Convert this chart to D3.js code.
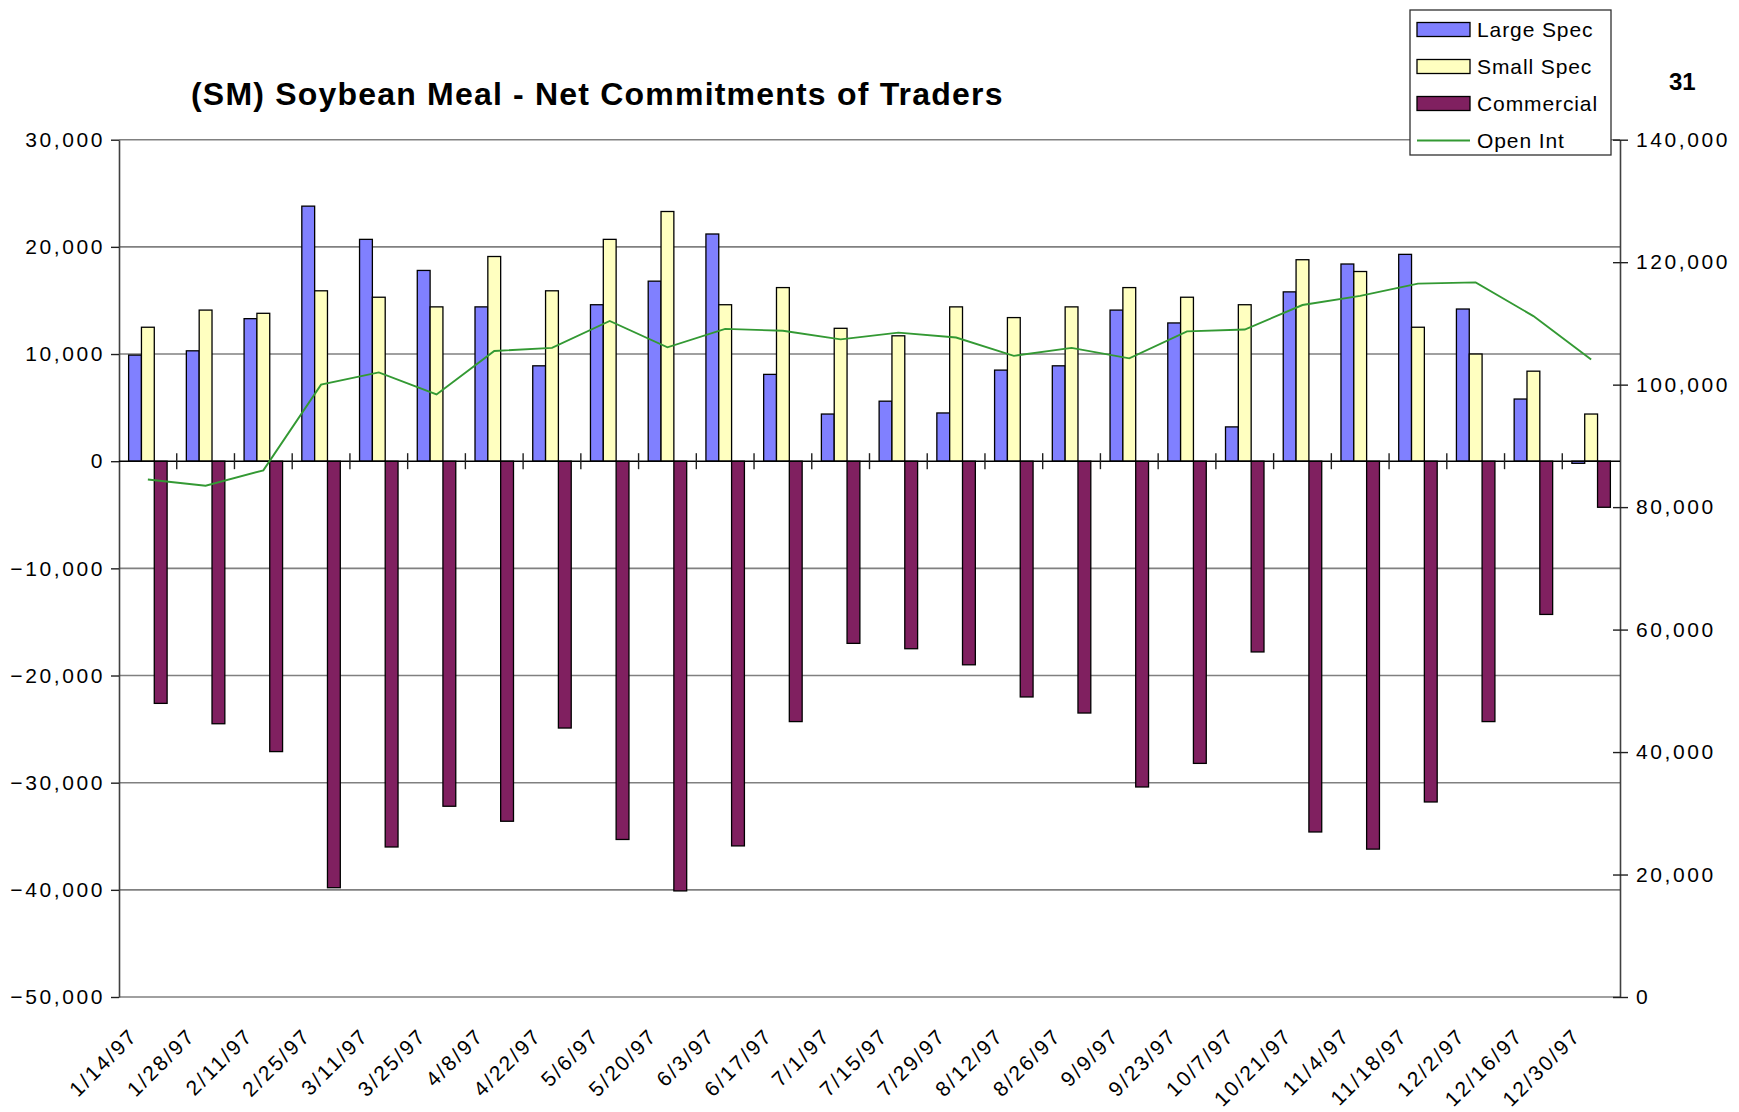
<!DOCTYPE html>
<html>
<head>
<meta charset="utf-8">
<script src="https://cdn.jsdelivr.net/npm/d3@7/dist/d3.min.js"></script>
<style>
  body { margin: 0; background: #fff; }
  svg text { font-family: Arial, "Liberation Sans", sans-serif; }
</style>
</head>
<body>
<div id="chart"></div>
<script>
// report dates (every two weeks)
const dates = ["1/14/97","1/28/97","2/11/97","2/25/97","3/11/97","3/25/97","4/8/97","4/22/97",
  "5/6/97","5/20/97","6/3/97","6/17/97","7/1/97","7/15/97","7/29/97","8/12/97","8/26/97",
  "9/9/97","9/23/97","10/7/97","10/21/97","11/4/97","11/18/97","12/2/97","12/16/97","12/30/97"];

// net positions (contracts)
const largeSpec = [9900,10300,13300,23800,20700,17800,14400,8900,14600,16800,21200,8100,4400,
  5600,4500,8500,8900,14100,12900,3200,15800,18400,19300,14200,5800,-200];
const smallSpec = [12500,14100,13800,15900,15300,14400,19100,15900,20700,23300,14600,16200,12400,
  11700,14400,13400,14400,16200,15300,14600,18800,17700,12500,10000,8400,4400];
const commercial = [-22600,-24500,-27100,-39800,-36000,-32200,-33600,-24900,-35300,-40100,-35900,
  -24300,-17000,-17500,-19000,-22000,-23500,-30400,-28200,-17800,-34600,-36200,-31800,-24300,-14300,-4300];
const openInt = [84500,83500,86000,100000,102000,98400,105500,106000,110400,106100,109100,108800,
  107400,108500,107700,104700,106000,104300,108700,109000,113000,114500,116500,116700,111200,104100];

const leftTicks = [30000,20000,10000,0,-10000,-20000,-30000,-40000,-50000];
const rightTicks = [0,20000,40000,60000,80000,100000,120000,140000];

const seriesNames = ["Large Spec","Small Spec","Commercial"];
const seriesColors = {"Large Spec":"#8080FF","Small Spec":"#FFFFC0","Commercial":"#802060"};
const lineColor = "#339933";

const W = 1739, H = 1112;
const plot = {left: 119, right: 1620, top: 139.7, bottom: 997};
const labelSize = 21, labelSpacing = "2.6px";

const svg = d3.select("#chart").append("svg")
  .attr("width", W).attr("height", H);

const x0 = d3.scaleBand()
  .domain(dates)
  .range([plot.left, plot.right])
  .paddingInner(1.5/4.5)
  .paddingOuter(0.75/4.5);
const x1 = d3.scaleBand()
  .domain(seriesNames)
  .range([0, x0.bandwidth()]);

const y = d3.scaleLinear().domain([-50000, 30000]).range([plot.bottom, plot.top]);
const y2 = d3.scaleLinear().domain([0, 140000]).range([plot.bottom, plot.top]);

const fmt = d3.format(",");

// gridlines
svg.append("g").selectAll("line")
  .data(leftTicks.filter(d => d !== 0))
  .enter().append("line")
    .attr("x1", plot.left).attr("x2", plot.right)
    .attr("y1", d => y(d)).attr("y2", d => y(d))
    .attr("stroke", "#808080").attr("stroke-width", 1.6);

// left axis
const leftAxis = svg.append("g")
  .attr("transform", `translate(${plot.left},0)`)
  .call(d3.axisLeft(y).tickValues(leftTicks).tickFormat(fmt).tickSizeInner(8).tickSizeOuter(0).tickPadding(6));
leftAxis.select(".domain").attr("stroke", "#404040").attr("stroke-width", 1.6);
leftAxis.selectAll(".tick line").attr("stroke", "#202020").attr("stroke-width", 1.4);
leftAxis.selectAll(".tick text")
  .attr("font-size", labelSize).attr("letter-spacing", labelSpacing).attr("fill", "#000")
  .attr("font-family", "Arial, 'Liberation Sans', sans-serif");

// right axis
const rightAxis = svg.append("g")
  .attr("transform", `translate(${plot.right},0)`)
  .call(d3.axisRight(y2).tickValues(rightTicks).tickFormat(fmt).tickSizeInner(8).tickSizeOuter(0).tickPadding(8));
rightAxis.select(".domain").attr("stroke", "#404040").attr("stroke-width", 1.6);
rightAxis.selectAll(".tick line").attr("x1", -7).attr("stroke", "#202020").attr("stroke-width", 1.4);
rightAxis.selectAll(".tick text")
  .attr("font-size", labelSize).attr("letter-spacing", labelSpacing).attr("fill", "#000")
  .attr("font-family", "Arial, 'Liberation Sans', sans-serif");

// bars
const rows = dates.map((d, i) => ({
  date: d,
  values: [
    {key: "Large Spec", value: largeSpec[i]},
    {key: "Small Spec", value: smallSpec[i]},
    {key: "Commercial", value: commercial[i]}
  ]
}));

svg.append("g").selectAll("g")
  .data(rows)
  .enter().append("g")
    .attr("transform", d => `translate(${x0(d.date)},0)`)
  .selectAll("rect")
  .data(d => d.values)
  .enter().append("rect")
    .attr("x", d => x1(d.key))
    .attr("width", x1.bandwidth())
    .attr("y", d => y(Math.max(0, d.value)))
    .attr("height", d => Math.abs(y(d.value) - y(0)))
    .attr("fill", d => seriesColors[d.key])
    .attr("stroke", "#000").attr("stroke-width", 1.3);

// category axis at zero
const zeroY = y(0);
svg.append("line")
  .attr("x1", plot.left).attr("x2", plot.right)
  .attr("y1", zeroY).attr("y2", zeroY)
  .attr("stroke", "#000").attr("stroke-width", 1.6);
svg.append("g").selectAll("line")
  .data(dates.slice(1))
  .enter().append("line")
    .attr("x1", d => x0(d) - x0.step() * (0.75/4.5))
    .attr("x2", d => x0(d) - x0.step() * (0.75/4.5))
    .attr("y1", zeroY - 8).attr("y2", zeroY + 8)
    .attr("stroke", "#202020").attr("stroke-width", 1.4);

// category labels at the bottom, rotated
svg.append("g").selectAll("text")
  .data(dates)
  .enter().append("text")
    .attr("transform", d => `translate(${x0(d) + x0.bandwidth()/2 - 9},${plot.bottom + 40}) rotate(-45)`)
    .attr("text-anchor", "end")
    .attr("font-size", labelSize).attr("letter-spacing", "2.3px")
    .text(d => d);

// open interest line
const line = d3.line()
  .x((d, i) => x0(dates[i]) + x0.bandwidth()/2)
  .y(d => y2(d));
svg.append("path")
  .datum(openInt)
  .attr("d", line)
  .attr("fill", "none")
  .attr("stroke", lineColor).attr("stroke-width", 1.9);

// title
svg.append("text")
  .attr("x", 191).attr("y", 105)
  .attr("font-size", 32).attr("font-weight", "bold").attr("letter-spacing", "1.2px")
  .text("(SM) Soybean Meal - Net Commitments of Traders");

svg.append("text")
  .attr("x", 1669).attr("y", 90)
  .attr("font-size", 24).attr("font-weight", "bold")
  .text("31");

// legend
const legend = svg.append("g");
legend.append("rect")
  .attr("x", 1410).attr("y", 10).attr("width", 201).attr("height", 145)
  .attr("fill", "#fff").attr("stroke", "#303030").attr("stroke-width", 1.3);
const legendItems = seriesNames.concat(["Open Int"]);
legendItems.forEach((name, i) => {
  const cy = 29.5 + i * 37;
  if (name === "Open Int") {
    legend.append("line")
      .attr("x1", 1417).attr("x2", 1470).attr("y1", cy).attr("y2", cy)
      .attr("stroke", lineColor).attr("stroke-width", 1.9);
  } else {
    legend.append("rect")
      .attr("x", 1417).attr("y", cy - 7).attr("width", 53).attr("height", 14)
      .attr("fill", seriesColors[name]).attr("stroke", "#000").attr("stroke-width", 1.3);
  }
  legend.append("text")
    .attr("x", 1477).attr("y", cy).attr("dy", "0.36em")
    .attr("font-size", 21).attr("letter-spacing", "0.9px")
    .text(name);
});
</script>
</body>
</html>
